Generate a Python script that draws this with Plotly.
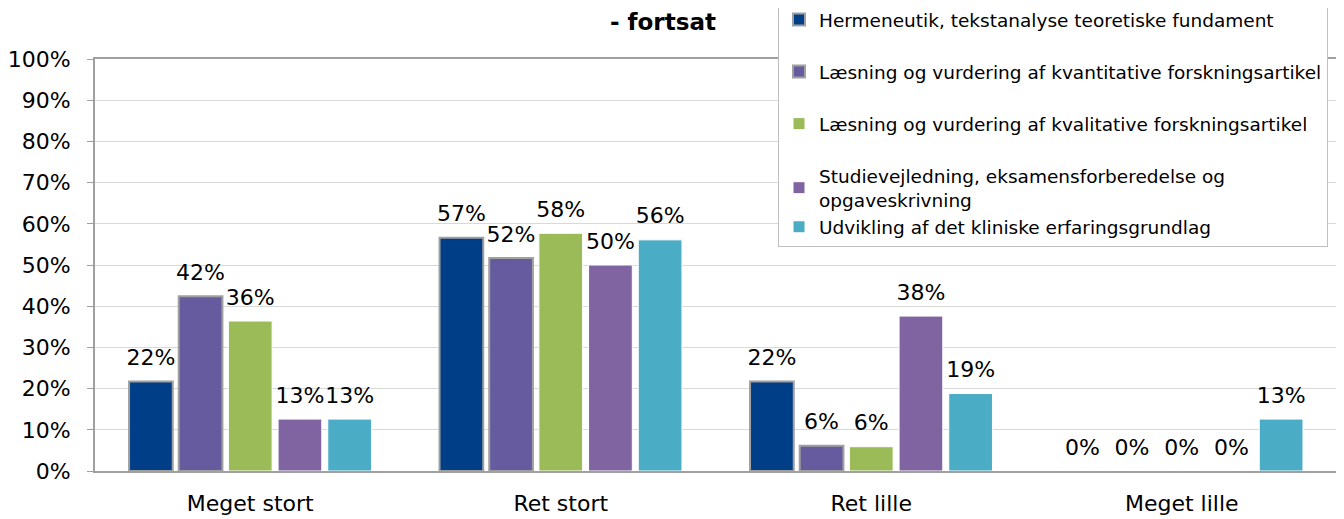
import plotly.graph_objects as go

categories = ["Meget stort", "Ret stort", "Ret lille", "Meget lille"]
series_names = [
    "Hermeneutik, tekstanalyse teoretiske fundament",
    "Læsning og vurdering af kvantitative forskningsartikel",
    "Læsning og vurdering af kvalitative forskningsartikel",
    "Studievejledning, eksamensforberedelse og<br>opgaveskrivning",
    "Udvikling af det kliniske erfaringsgrundlag",
]
hermeneutik = [0.217, 0.566, 0.217, 0.0]
kvantitative = [0.424, 0.517, 0.061, 0.0]
kvalitative = [0.364, 0.577, 0.059, 0.0]
studievejledning = [0.126, 0.50, 0.376, 0.0]
udvikling = [0.126, 0.561, 0.188, 0.126]
series_values = [hermeneutik, kvantitative, kvalitative, studievejledning, udvikling]

colors = ["#003F87", "#675BA0", "#9BBB59", "#8064A2", "#4BACC6"]
outline = ["#A0A0A0", "#A0A0A0", "#FFFFFF", "#FFFFFF", "#FFFFFF"]
outline_w = [2, 2, 1, 1, 1]
groups = ["a", "b", "c", "d", "d"]

FONT = "DejaVu Sans"

fig = go.Figure()
for i, (name, vals, c, oc, ow, g) in enumerate(zip(series_names, series_values, colors, outline, outline_w, groups)):
    fig.add_trace(go.Bar(
        x=categories, y=vals, name=name,
        marker=dict(color=c, line=dict(color=oc, width=[ow if v > 0 else 0 for v in vals])),
        legendgroup=g, offsetgroup=str(i),
    ))
# value labels: invisible markers at each bar top, text placed above them
for i, vals in enumerate(series_values):
    fig.add_trace(go.Scatter(
        x=categories, y=vals, mode="markers+text",
        marker=dict(size=16, opacity=0),
        text=[f"{round(v*100)}%" for v in vals],
        textposition="top center", cliponaxis=False,
        textfont=dict(size=22, color="#000000", family=FONT),
        showlegend=False, hoverinfo="skip", offsetgroup=str(i),
    ))

# page body has an 8px margin, so the figure is drawn from (8, 8)
OFF = 8
W, H = 1344 - OFF, 519 - OFF
ml, mr, mt, mb = 95 - OFF, 7, 59 - OFF, 48
pw, ph = W - ml - mr, H - mt - mb

fig.update_layout(
    width=W, height=H,
    margin=dict(l=ml, r=mr, t=mt, b=mb, autoexpand=False),
    paper_bgcolor="white", plot_bgcolor="white",
    barmode="group", bargap=0.2, bargroupgap=0.12,
    scattermode="group", scattergap=0.2,
    font=dict(family=FONT, color="#000000"),
    showlegend=True,
    legend=dict(
        x=(778 - OFF - ml) / pw, xanchor="left",
        y=1 + (mt + 8) / ph, yanchor="top",
        bgcolor="white", bordercolor="#BFBFBF", borderwidth=1,
        font=dict(size=18.5, family=FONT, color="#000000"),
        tracegroupgap=25, traceorder="grouped",
    ),
    annotations=[dict(
        text="<b>- fortsat</b>",
        x=(663 - OFF - ml) / pw, xref="paper",
        y=1 + (mt - (22 - OFF)) / ph, yref="paper", yanchor="middle",
        showarrow=False, font=dict(size=23, family=FONT, color="#000000"),
    )],
)

fig.update_yaxes(
    range=[0, 1], dtick=0.1, tickformat=".0%", automargin=False,
    showgrid=True, gridcolor="#D9D9D9", gridwidth=1,
    showline=True, linecolor="#A0A0A0", linewidth=2, mirror=True,
    ticks="outside", ticklen=6, tickcolor="#A0A0A0",
    tickfont=dict(size=22, family=FONT, color="#000000"),
    ticklabelstandoff=12, zeroline=False,
)
fig.update_xaxes(
    automargin=False,
    showline=True, linecolor="#A0A0A0", linewidth=2, mirror=True,
    ticks="", tickfont=dict(size=22, family=FONT, color="#000000"),
    ticklabelstandoff=12,
)

fig.write_html("out.html")
